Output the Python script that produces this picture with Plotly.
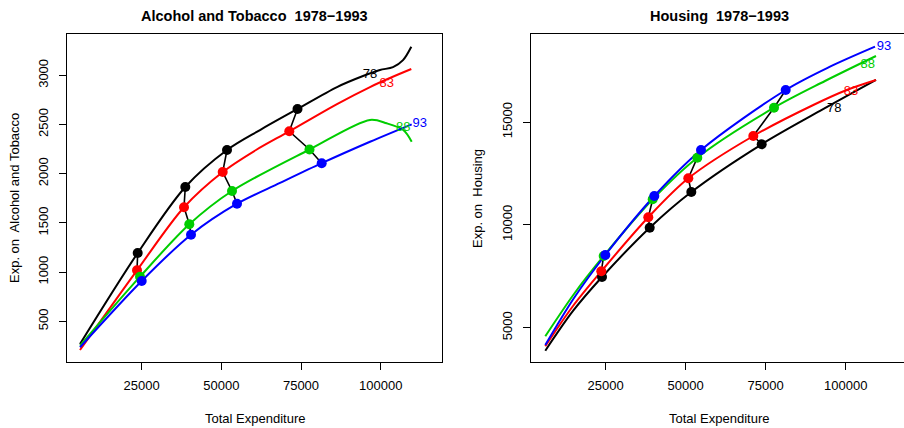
import plotly.graph_objects as go

# ---------------- data ----------------
years = ["78", "83", "88", "93"]
year_colors = ["#000000", "#FF0000", "#00CD00", "#0000FF"]

# Alcohol and Tobacco: fitted curves
alc_x_78 = [5648, 23755, 38692, 51777, 62133, 73901, 86296, 94455, 99790, 103870, 107008, 109612]
alc_y_78 = [269, 1194, 1865, 2241, 2444, 2658, 2881, 2993, 3054, 3084, 3155, 3291]
alc_x_83 = [5648, 23535, 38284, 50428, 60880, 71328, 86296, 96650, 102927, 109612]
alc_y_83 = [208, 1018, 1659, 2017, 2241, 2431, 2708, 2881, 2973, 3064]
alc_x_88 = [5648, 24477, 39947, 53347, 77666, 96650, 101891, 107100, 109737]
alc_y_88 = [252, 953, 1486, 1824, 2246, 2546, 2512, 2444, 2325]
alc_x_93 = [5648, 25010, 40481, 54916, 68410, 81495, 96650, 109737]
alc_y_93 = [236, 910, 1380, 1695, 1906, 2107, 2325, 2502]

# Alcohol and Tobacco: quartile points (one list per year)
alc_px_78 = [23755, 38692, 51777, 73901]
alc_py_78 = [1194, 1865, 2241, 2658]
alc_px_83 = [23535, 38284, 50428, 71328]
alc_py_83 = [1018, 1659, 2017, 2431]
alc_px_88 = [24477, 39947, 53347, 77666]
alc_py_88 = [953, 1486, 1824, 2246]
alc_px_93 = [25010, 40481, 54916, 81495]
alc_py_93 = [910, 1380, 1695, 2107]

# Alcohol and Tobacco: year labels
alc_lab_x = [96650, 101891, 107100, 112248]
alc_lab_y = [3010, 2919, 2468, 2512]

# Housing: fitted curves
hou_x_78 = [6125, 14781, 23844, 38750, 51750, 73750, 91969, 109469]
hou_y_78 = [3882, 5813, 7463, 9863, 11598, 13918, 15537, 17044]
hou_x_83 = [6125, 14781, 23625, 38313, 50813, 71125, 89875, 100313, 109469]
hou_y_83 = [4096, 6056, 7743, 10368, 12264, 14321, 15828, 16557, 17044]
hou_x_88 = [6125, 15094, 24375, 39688, 53625, 77594, 93531, 109469]
hou_y_88 = [4582, 6639, 8487, 11243, 13266, 15697, 16995, 18210]
hou_x_93 = [6125, 15094, 24875, 40188, 54781, 81250, 95094, 109156]
hou_y_93 = [4160, 6444, 8535, 11404, 13641, 16558, 17690, 18663]

# Housing: quartile points
hou_px_78 = [23844, 38750, 51750, 73750]
hou_py_78 = [7463, 9863, 11598, 13918]
hou_px_83 = [23625, 38313, 50813, 71125]
hou_py_83 = [7743, 10368, 12264, 14321]
hou_px_88 = [24375, 39688, 53625, 77594]
hou_py_88 = [8487, 11243, 13266, 15697]
hou_px_93 = [24875, 40188, 54781, 81250]
hou_py_93 = [8535, 11404, 13641, 16558]

# Housing: year labels
hou_lab_x = [96438, 101656, 106875, 111969]
hou_lab_y = [15634, 16475, 17773, 18663]

x_ticks = [25000, 50000, 75000, 100000]
alc_y_ticks = [500, 1000, 1500, 2000, 2500, 3000]
hou_y_ticks = [5000, 10000, 15000]

titles = ["Alcohol and Tobacco  1978\u22121993", "Housing  1978\u22121993"]
x_title = "Total Expenditure"
y_titles = ["Exp. on  Alcohol and Tobacco", "Exp. on  Housing"]

# ---------------- figure ----------------
FONT = "Liberation Sans, Arial, Helvetica, sans-serif"
W, H = 904, 428
fig = go.Figure()

panels = [
    dict(xa="x", ya="y",
         curves=[(alc_x_78, alc_y_78), (alc_x_83, alc_y_83), (alc_x_88, alc_y_88), (alc_x_93, alc_y_93)],
         pts=[(alc_px_78, alc_py_78), (alc_px_83, alc_py_83), (alc_px_88, alc_py_88), (alc_px_93, alc_py_93)],
         lab=(alc_lab_x, alc_lab_y)),
    dict(xa="x2", ya="y2",
         curves=[(hou_x_78, hou_y_78), (hou_x_83, hou_y_83), (hou_x_88, hou_y_88), (hou_x_93, hou_y_93)],
         pts=[(hou_px_78, hou_py_78), (hou_px_83, hou_py_83), (hou_px_88, hou_py_88), (hou_px_93, hou_py_93)],
         lab=(hou_lab_x, hou_lab_y)),
]

for p in panels:
    for (cx, cy), col in zip(p["curves"], year_colors):
        fig.add_trace(go.Scatter(x=cx, y=cy, mode="lines", xaxis=p["xa"], yaxis=p["ya"],
                                 line=dict(color=col, width=2, shape="spline", smoothing=0.9),
                                 showlegend=False, hoverinfo="skip"))
    # connector lines across years at each quartile
    for q in range(4):
        fig.add_trace(go.Scatter(x=[pp[0][q] for pp in p["pts"]], y=[pp[1][q] for pp in p["pts"]],
                                 mode="lines", xaxis=p["xa"], yaxis=p["ya"],
                                 line=dict(color="black", width=1.6),
                                 showlegend=False, hoverinfo="skip"))
    for (px, py), col in zip(p["pts"], year_colors):
        fig.add_trace(go.Scatter(x=px, y=py, mode="markers", xaxis=p["xa"], yaxis=p["ya"],
                                 marker=dict(color=col, size=10, line=dict(width=0)),
                                 showlegend=False, hoverinfo="skip"))
    lx, ly = p["lab"]
    fig.add_trace(go.Scatter(x=lx, y=ly, mode="text", text=years, xaxis=p["xa"], yaxis=p["ya"],
                             textfont=dict(family=FONT, size=13, color=year_colors),
                             textposition="middle center",
                             showlegend=False, hoverinfo="skip"))

ydom = [(H - 362) / H, (H - 34) / H]
axis_common = dict(showline=True, linecolor="black", linewidth=1, mirror=True,
                   ticks="outside", ticklen=7, tickcolor="black", tickwidth=1,
                   showgrid=False, zeroline=False,
                   tickfont=dict(family=FONT, size=13, color="black"))

fig.update_layout(
    width=W, height=H,
    margin=dict(l=0, r=0, t=0, b=0),
    paper_bgcolor="white", plot_bgcolor="white",
    showlegend=False,
    xaxis=dict(domain=[67 / W, 442 / W], range=[1569, 119244], tickvals=x_ticks,
               ticktext=[str(v) for v in x_ticks], anchor="y", ticklabelstandoff=4, **axis_common),
    yaxis=dict(domain=ydom, range=[86, 3420], tickvals=alc_y_ticks,
               ticktext=[str(v) for v in alc_y_ticks], tickangle=-90, anchor="x",
               ticklabelstandoff=6, **axis_common),
    xaxis2=dict(domain=[531.3 / W, 1.0], range=[1750, 118219], tickvals=x_ticks,
                ticktext=[str(v) for v in x_ticks], anchor="y2", ticklabelstandoff=4, **axis_common),
    yaxis2=dict(domain=ydom, range=[3332, 19280], tickvals=hou_y_ticks,
                ticktext=[str(v) for v in hou_y_ticks], tickangle=-90, anchor="x2",
                ticklabelstandoff=6, **axis_common),
)

ann = []
for title, cx in zip(titles, [254.5, 719]):
    ann.append(dict(text="<b>" + title + "</b>", x=cx / W, y=1 - 16 / H, xref="paper", yref="paper",
                    xanchor="center", yanchor="middle", showarrow=False,
                    font=dict(family=FONT, size=14.5, color="black")))
for cx in [254.5, 719]:
    ann.append(dict(text=x_title, x=cx / W, y=1 - 418 / H, xref="paper", yref="paper",
                    xanchor="center", yanchor="middle", showarrow=False,
                    font=dict(family=FONT, size=13, color="black")))
for yt, cx in zip(y_titles, [14, 477]):
    ann.append(dict(text=yt, x=cx / W, y=1 - 198 / H, xref="paper", yref="paper",
                    xanchor="center", yanchor="middle", showarrow=False, textangle=-90,
                    font=dict(family=FONT, size=13, color="black")))
fig.update_layout(annotations=ann)

fig.write_html("out.html",
               config={"displayModeBar": False},
               post_script="document.body.style.margin='0';document.body.style.padding='0';")
